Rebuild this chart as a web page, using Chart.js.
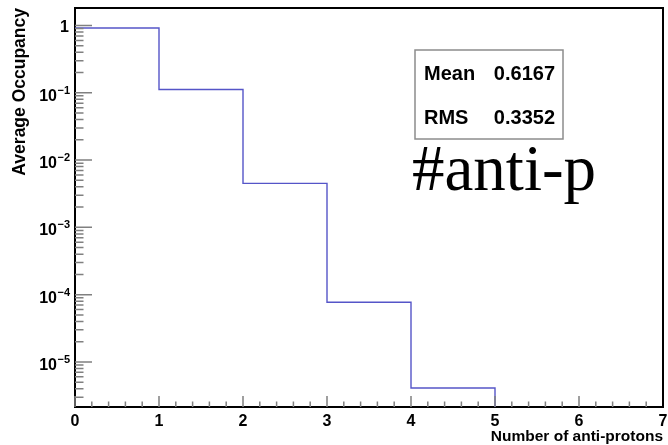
<!DOCTYPE html>
<html>
<head>
<meta charset="utf-8">
<script src="https://cdn.jsdelivr.net/npm/chart.js@4/dist/chart.umd.min.js"></script>
<style>
  html, body { margin: 0; padding: 0; background: #fff; }
  #wrap { width: 668px; height: 445px; position: relative; }
</style>
</head>
<body>
<div id="wrap"><canvas id="c"></canvas></div>
<script>
// ---- data ----
const binEdges = [0, 1, 2, 3, 4, 5, 6, 7];
const binValues = [0.92, 0.112, 0.0045, 7.7e-5, 4.1e-6, 0, 0];
const xTickValues = [0, 1, 2, 3, 4, 5, 6, 7];
const xTickLabels = ['0', '1', '2', '3', '4', '5', '6', '7'];
const yTickValues = [1e-5, 1e-4, 1e-3, 1e-2, 1e-1, 1];
const yTickBase = ['10', '10', '10', '10', '10', '1'];
const yTickExp = ['\u22125', '\u22124', '\u22123', '\u22122', '\u22121', ''];
const statNames = ['Mean', 'RMS'];
const statValues = ['0.6167', '0.3352'];
const plotLabel = '#anti-p';
const xTitle = 'Number of anti-protons';
const yTitle = 'Average Occupancy';
const Y_MIN = 2.14e-6, Y_MAX = 1.82;

// build step points: (low edge, value) for filled bins, then drop at next edge
const FLOOR = 1e-9;
const points = [];
for (let i = 0; i < binValues.length; i++) {
  if (binValues[i] > 0) {
    points.push({x: binEdges[i], y: binValues[i]});
  } else if (points.length && points[points.length - 1].y !== FLOOR) {
    points.push({x: binEdges[i], y: FLOOR});
  }
}

const SANS = '"Liberation Sans", Arial, Helvetica, sans-serif';
const SERIF = '"Liberation Serif", "Times New Roman", serif';

const rootPlugin = {
  id: 'rootStyle',
  afterDraw(chart) {
    const ctx = chart.ctx;
    const a = chart.chartArea;
    const xs = chart.scales.x, ys = chart.scales.y;
    ctx.save();
    // inner ticks
    ctx.strokeStyle = '#808080';
    ctx.lineWidth = 1.5;
    ctx.beginPath();
    for (let k = 0; k <= 35; k++) {
      const vv = k / 5;
      const px = xs.getPixelForValue(vv);
      const len = (k % 5 === 0) ? 11 : 5.5;
      ctx.moveTo(px, a.bottom);
      ctx.lineTo(px, a.bottom - len);
    }
    for (let e = -6; e <= 0; e++) {
      for (let m = 1; m <= 9; m++) {
        const v = m * Math.pow(10, e);
        if (v < Y_MIN || v > Y_MAX) continue;
        const py = ys.getPixelForValue(v);
        const len = m === 1 ? 17 : 8.5;
        ctx.moveTo(a.left, py);
        ctx.lineTo(a.left + len, py);
      }
    }
    ctx.stroke();
    // top and right frame
    ctx.strokeStyle = '#000';
    ctx.lineWidth = 2;
    ctx.beginPath();
    ctx.moveTo(a.left, a.top);
    ctx.lineTo(a.right, a.top);
    ctx.lineTo(a.right, a.bottom);
    ctx.stroke();
    // y tick labels (base + superscript exponent)
    ctx.fillStyle = '#000';
    ctx.textBaseline = 'alphabetic';
    ctx.textAlign = 'right';
    const labelRight = 70;
    for (let i = 0; i < yTickValues.length; i++) {
      const py = ys.getPixelForValue(yTickValues[i]);
      let xr = labelRight;
      if (yTickExp[i]) {
        ctx.font = 'bold 11px ' + SANS;
        ctx.fillText(yTickExp[i], xr, py + 1);
        xr -= ctx.measureText(yTickExp[i]).width + 0.5;
        ctx.font = 'bold 16px ' + SANS;
        ctx.fillText(yTickBase[i], xr, py + 8);
      } else {
        ctx.font = 'bold 16px ' + SANS;
        ctx.fillText(yTickBase[i], xr - 1, py + 7);
      }
    }
    // stats box
    ctx.fillStyle = '#fff';
    ctx.fillRect(415, 50, 148, 89);
    ctx.strokeStyle = '#8c8c8c';
    ctx.lineWidth = 1.5;
    ctx.strokeRect(415, 50, 148, 89);
    ctx.fillStyle = '#000';
    ctx.font = 'bold 20px ' + SANS;
    const rowsY = [80, 124];
    for (let i = 0; i < statNames.length; i++) {
      ctx.textAlign = 'left';
      ctx.fillText(statNames[i], 424, rowsY[i]);
      ctx.textAlign = 'right';
      ctx.fillText(statValues[i], 555, rowsY[i]);
    }
    // big label
    ctx.textAlign = 'left';
    ctx.font = '65px ' + SERIF;
    ctx.fillText(plotLabel, 412, 190);
    ctx.restore();
  }
};

new Chart(document.getElementById('c'), {
  type: 'line',
  data: {
    datasets: [{
      data: points,
      stepped: 'before',
      borderColor: 'rgb(85,85,200)',
      borderWidth: 1.4,
      pointRadius: 0,
      fill: false,
      tension: 0
    }]
  },
  options: {
    responsive: true,
    maintainAspectRatio: false,
    animation: false,
    events: [],
    layout: { padding: { top: 8, right: 5, left: 0, bottom: 0 } },
    plugins: { legend: { display: false }, tooltip: { enabled: false } },
    scales: {
      x: {
        type: 'linear',
        min: 0, max: 7,
        afterFit(s) { s.height = 38; s.paddingLeft = 0; s.paddingRight = 0; },
        afterBuildTicks(s) { s.ticks = xTickValues.map(v => ({value: v})); },
        grid: { display: false, drawTicks: false },
        border: { display: true, color: '#000', width: 2 },
        ticks: {
          padding: 5,
          color: '#000',
          font: { family: SANS, size: 16, weight: 'bold' },
          maxRotation: 0,
          autoSkip: false,
          callback: (v) => { const i = xTickValues.indexOf(v); return i >= 0 ? xTickLabels[i] : ''; }
        },
        title: {
          display: true, text: xTitle, align: 'end', color: '#000',
          font: { family: SANS, size: 15.5, weight: 'bold', lineHeight: 1 },
          padding: { top: 0, bottom: 1 }
        }
      },
      y: {
        type: 'logarithmic',
        min: Y_MIN, max: Y_MAX,
        afterFit(s) { s.width = 75; s.paddingTop = 0; s.paddingBottom = 0; },
        afterBuildTicks(s) { s.ticks = yTickValues.map(v => ({value: v})); },
        grid: { display: false, drawTicks: false },
        border: { display: true, color: '#000', width: 2 },
        ticks: { display: false },
        title: {
          display: true, text: yTitle, align: 'end', color: '#000',
          font: { family: SANS, size: 17.5, weight: 'bold', lineHeight: 1 },
          padding: { top: 11, bottom: 0 }
        }
      }
    }
  },
  plugins: [rootPlugin]
});
</script>
</body>
</html>
